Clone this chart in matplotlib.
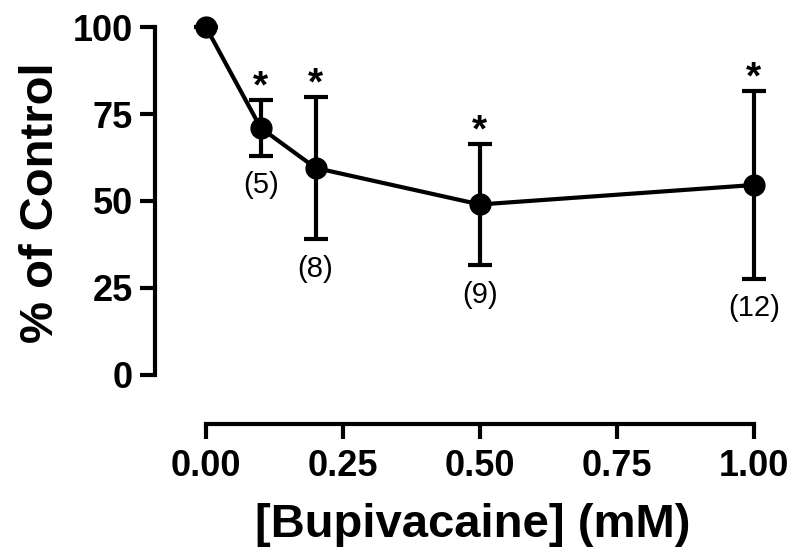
# bupivacaine dose-response, % of control (mean +/- SEM)

import matplotlib
matplotlib.use("Agg")
import matplotlib.pyplot as plt

conc = [0.0, 0.1, 0.2, 0.5, 1.0]
pct_control = [100.0, 71.0, 59.5, 49.0, 54.6]
sem = [0.0, 8.0, 20.5, 17.5, 27.0]
n_cells = ["", "(5)", "(8)", "(9)", "(12)"]
signif = [False, True, True, True, True]

xticks = [0.0, 0.25, 0.5, 0.75, 1.0]
xtick_labels = ["0.00", "0.25", "0.50", "0.75", "1.00"]
yticks = [0, 25, 50, 75, 100]

plt.rcParams['font.family'] = ['Liberation Sans', 'DejaVu Sans']

fig = plt.figure(figsize=(8, 5.6), dpi=100)
ax = fig.add_axes([155/800, 1 - 424/560, (790 - 155)/800, (424 - 10)/560])

ax.errorbar(conc, pct_control, yerr=sem, color='black', lw=3.0,
            marker='o', markersize=15, capsize=8.3, capthick=3.0, elinewidth=3.0,
            zorder=3)

# stars above, n below
for x, y, e, n, s in zip(conc, pct_control, sem, n_cells, signif):
    if s:
        ax.annotate("*", (x, y + e), xytext=(0, -4), textcoords='offset points',
                    ha='center', va='bottom', fontsize=28, fontweight='bold')
    if n:
        ax.annotate(n, (x, y - e), xytext=(0, -11), textcoords='offset points',
                    ha='center', va='top', fontsize=21)

ax.set_xlim(-0.093, 1.066)
ax.set_ylim(-14.1, 104.9)
ax.spines['top'].set_visible(False)
ax.spines['right'].set_visible(False)
ax.spines['left'].set_bounds(0, 100)
ax.spines['bottom'].set_bounds(0, 1)
for sp in ('left', 'bottom'):
    ax.spines[sp].set_linewidth(3.0)

ax.set_xticks(xticks)
ax.set_xticklabels(xtick_labels)
ax.set_yticks(yticks)
ax.tick_params(width=3.0, length=11, labelsize=26)
ax.tick_params(axis='x', pad=7)
ax.tick_params(axis='y', pad=5)
for lab in ax.get_xticklabels() + ax.get_yticklabels():
    lab.set_fontweight('bold')

ax.set_xlabel("[Bupivacaine] (mM)", fontsize=34, fontweight='bold', labelpad=14)
ax.set_ylabel("% of Control", fontsize=34, fontweight='bold')
ax.yaxis.set_label_coords(-0.145, 0.534)

fig.savefig("out.png", dpi=100)
